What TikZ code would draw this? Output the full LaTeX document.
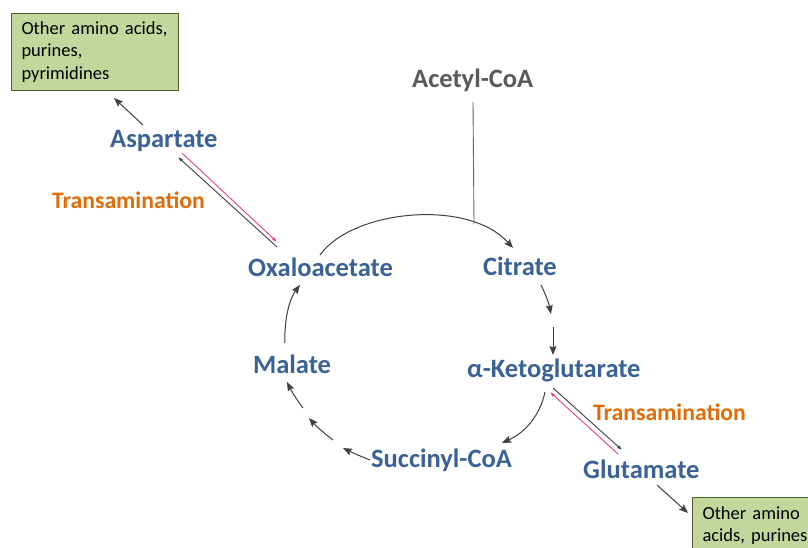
\documentclass[tikz,border=0pt]{standalone}
\usepackage{fontspec}
\setmainfont{Carlito}
\usetikzlibrary{arrows.meta}
\definecolor{metblue}{HTML}{3A6296}
\definecolor{transorange}{HTML}{E36C09}
\definecolor{acgray}{HTML}{595959}
\definecolor{linegray}{HTML}{3F3F3F}
\definecolor{transred}{HTML}{E8416A}
\definecolor{boxfill}{HTML}{C3D69B}
\definecolor{boxline}{HTML}{4F6228}
\begin{document}
\begin{tikzpicture}[x=1pt,y=-1pt,
  metab/.style={anchor=base west,inner sep=0pt,text=metblue,font=\fontsize{26.5}{30}\selectfont\bfseries},
  trans/.style={anchor=base west,inner sep=0pt,text=transorange,font=\fontsize{23.7}{28}\selectfont\bfseries},
  acet/.style={anchor=base west,inner sep=0pt,text=acgray,font=\fontsize{26.5}{30}\selectfont\bfseries},
  prodbox/.style={draw=boxline,fill=boxfill,line width=1pt,anchor=north west,align=left,
     font=\fontsize{18.5}{22.5}\selectfont,text=black},
  cyc/.style={draw=linegray,line width=1pt,-{Stealth[length=9pt,width=7pt,inset=1.5pt]}},
  tblack/.style={draw=linegray,line width=0.9pt,-{Latex[length=5pt,width=3.5pt]}},
  tred/.style={draw=transred,line width=0.9pt,-{Latex[length=5pt,width=3.5pt]}}]
\useasboundingbox (0,0) rectangle (808,547);
\fill[white] (0,0) rectangle (808,547);

% nodes
\node[acet]  (acet) at (412,87)  {Acetyl-CoA};
\node[metab] (asp)  at (110,147) {Aspartate};
\node[trans] (tr1)  at (52,208)  {Transamination};
\node[metab] (oxa)  at (248,276) {Oxaloacetate};
\node[metab] (cit)  at (483,275) {Citrate};
\node[metab] (mal)  at (253,373) {Malate};
\node[metab] (akg)  at (467,377) {α-Ketoglutarate};
\node[trans] (tr2)  at (593,420) {Transamination};
\node[metab] (suc)  at (371,467) {Succinyl-CoA};
\node[metab] (glu)  at (583,478) {Glutamate};

\node[prodbox,minimum width=167pt,minimum height=77pt,text width=147pt,inner xsep=10pt,inner ysep=0pt]
  (box1) at (11,13) {Other amino acids,\\purines,\\pyrimidines};
\node[prodbox,text width=125pt,inner xsep=10pt,inner ysep=9pt]
  (box2) at (692,497) {Other amino\\acids, purines};

% product arrows
\draw[cyc] ([shift={(33,-22)}]asp.base west) -- ([shift={(103,7)}]box1.south west);
\draw[cyc] ([shift={(74,7)}]glu.base west) -- ([shift={(-4,16)}]box2.north west);

% transamination pairs
\draw[tblack] ([shift={(29,-29)}]oxa.base west) -- ([shift={(68,10)}]asp.base west);
\draw[tred]   ([shift={(72,6)}]asp.base west) -- ([shift={(29,-34)}]oxa.base west);
\draw[tblack] ([shift={(86,11)}]akg.base west) -- ([shift={(39,-28)}]glu.base west);
\draw[tred]   ([shift={(35,-24)}]glu.base west) -- ([shift={(83,15)}]akg.base west);

% cycle
\draw[cyc] ([shift={(72,-21)}]oxa.base west) .. controls (352,210) and (468,198) .. ([shift={(30,-27)}]cit.base west);
\coordinate (join) at (474,224);
\draw[draw=linegray!80,line width=0.9pt] ([shift={(61,15)}]acet.base west) -- (join);
\draw[cyc] ([shift={(58,10)}]cit.base west) .. controls (546,295) and (549,304) .. ([shift={(84,-63)}]akg.base west);
\draw[cyc] ([shift={(86,-50)}]akg.base west) -- ([shift={(86,-22)}]akg.base west);
\draw[cyc] ([shift={(78,15)}]akg.base west) .. controls (540,415) and (526,432) .. ([shift={(131,-24)}]suc.base west);
\coordinate (m1) at (343,448);
\coordinate (m2a) at (333,440);
\coordinate (m2b) at (309,418);
\coordinate (m3) at (303,408);
\draw[cyc] ([shift={(-1,-7)}]suc.base west) .. controls (360,456) and (351,452) .. (m1);
\draw[cyc] (m2a) .. controls (324,433) and (316,426) .. (m2b);
\draw[cyc] (m3) .. controls (297,400) and (292,392) .. ([shift={(34,9)}]mal.base west);
\draw[cyc] ([shift={(32,-30)}]mal.base west) .. controls (284,318) and (290,298) .. ([shift={(52,9)}]oxa.base west);
\end{tikzpicture}
\end{document}
